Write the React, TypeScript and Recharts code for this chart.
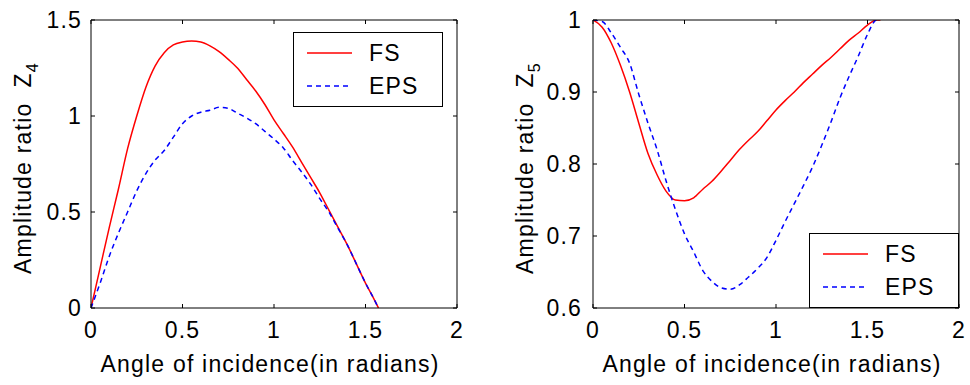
import { LineChart, Line, XAxis, YAxis, Legend } from 'recharts';

// angle of incidence (radians), shared by both panels
const angle = [
  0, 0.05, 0.1, 0.15, 0.2, 0.25, 0.3, 0.35, 0.4, 0.45, 0.5, 0.55, 0.6, 0.65, 0.7, 0.75,
  0.8, 0.85, 0.9, 0.95, 1.0, 1.05, 1.1, 1.15, 1.2, 1.25, 1.3, 1.35, 1.4, 1.45, 1.5, 1.55, 1.5708,
];

// amplitude ratio Z4
const fsZ4 = [
  0, 0.21, 0.42, 0.62, 0.83, 1.0, 1.15, 1.26, 1.33, 1.37, 1.385, 1.39, 1.385, 1.365, 1.335, 1.295,
  1.25, 1.19, 1.13, 1.06, 0.98, 0.91, 0.84, 0.76, 0.68, 0.6, 0.51, 0.42, 0.33, 0.23, 0.13, 0.04, 0,
];
const epsZ4 = [
  0, 0.13, 0.27, 0.39, 0.5, 0.61, 0.7, 0.77, 0.82, 0.89, 0.96, 1.0, 1.02, 1.03, 1.045, 1.04,
  1.015, 0.99, 0.96, 0.92, 0.88, 0.835, 0.77, 0.71, 0.645, 0.57, 0.5, 0.415, 0.33, 0.23, 0.13, 0.04, 0,
];

// amplitude ratio Z5
const fsZ5 = [
  1.0, 0.99, 0.968, 0.937, 0.9, 0.857, 0.815, 0.785, 0.762, 0.75, 0.749, 0.753, 0.765, 0.776, 0.79, 0.805,
  0.82, 0.833, 0.845, 0.86, 0.875, 0.888, 0.9, 0.913, 0.925, 0.937, 0.948, 0.96, 0.972, 0.982, 0.993, 1.0, 1.0,
];
const epsZ5 = [
  1.0, 0.998, 0.982, 0.962, 0.94, 0.897, 0.857, 0.82, 0.776, 0.737, 0.703, 0.678, 0.652, 0.637, 0.628, 0.626,
  0.632, 0.643, 0.655, 0.67, 0.694, 0.72, 0.745, 0.77, 0.796, 0.826, 0.858, 0.892, 0.922, 0.95, 0.98, 1.0, 1.0,
];

const seriesNames = ['FS', 'EPS'];
const xTicks = [0, 0.5, 1, 1.5, 2];
const z4Ticks = [0, 0.5, 1, 1.5];
const z5Ticks = [0.6, 0.7, 0.8, 0.9, 1];

const z4Data = angle.map((a, i) => ({ angle: a, FS: fsZ4[i], EPS: epsZ4[i] }));
const z5Data = angle.map((a, i) => ({ angle: a, FS: fsZ5[i], EPS: epsZ5[i] }));

const FONT = '"Liberation Sans", Arial, Helvetica, sans-serif';
const FS = 23;
const tickStyle = { fontSize: FS, fill: '#000' };
const fmt = (v: number) => String(v);
const noLabel = () => <g />;

const XTitle = (props: any) => {
  const { x, y, width } = props.viewBox;
  return (
    <text x={x + width / 2 - 4} y={y + 64} textAnchor="middle" fontSize={FS} fill="#000">
      Angle of incidence(in radians)
    </text>
  );
};

const makeYTitle = (sub: string) => (props: any) => {
  const { x, y, width, height } = props.viewBox;
  const cx = x + width - 60;
  const cy = y + height / 2 + 4;
  return (
    <text x={cx} y={cy} transform={`rotate(-90 ${cx} ${cy})`} textAnchor="middle" fontSize={FS} fill="#000">
      {'Amplitude ratio\u00a0\u00a0Z'}
      <tspan dy={7} fontSize={16}>{sub}</tspan>
    </text>
  );
};

const LegendBox = (props: any) => {
  const items = [...(props.payload ?? [])].sort(
    (a: any, b: any) => seriesNames.indexOf(a.value) - seriesNames.indexOf(b.value),
  );
  return (
    <svg width={150} height={75} style={{ display: 'block' }}>
      <rect x={0.5} y={0.5} width={149} height={74} fill="#fff" stroke="#000" />
      {items.map((it: any, i: number) => (
        <g key={it.value}>
          <line x1={14} x2={59} y1={21 + i * 33} y2={21 + i * 33} stroke={it.color} strokeWidth={1.5}
            strokeDasharray={it.payload?.strokeDasharray} />
          <text x={76} y={29 + i * 33} fontSize={FS} fill="#000">{it.value}</text>
        </g>
      ))}
    </svg>
  );
};

type PanelProps = {
  left: number;
  data: { angle: number; FS: number; EPS: number }[];
  yDomain: [number, number];
  yTicks: number[];
  sub: string;
  yWidth: number;
  yGap: number;
  legendLeft: number;
  legendTop: number;
};

const Panel = ({ left, data, yDomain, yTicks, sub, yWidth, yGap, legendLeft, legendTop }: PanelProps) => {
  const axisLine = { stroke: '#000' };
  return (
    <div style={{ position: 'absolute', left, top: 0 }}>
      <LineChart width={480} height={385} data={data}
        margin={{ top: 20, right: 480 - yWidth - 366, bottom: 0, left: 0 }}>
        <XAxis xAxisId="b" dataKey="angle" type="number" domain={[0, 2]} ticks={xTicks} allowDataOverflow
          height={77} tickLine={false} tickSize={4} tickMargin={10} axisLine={axisLine}
          tick={tickStyle} tickFormatter={fmt} label={{ content: XTitle }} />
        <XAxis xAxisId="bm" dataKey="angle" type="number" domain={[0, 2]} ticks={xTicks} allowDataOverflow
          orientation="bottom" mirror tick={noLabel} axisLine={false} tickSize={4} tickLine={axisLine} />
        <XAxis xAxisId="t" dataKey="angle" type="number" domain={[0, 2]} ticks={xTicks} allowDataOverflow
          orientation="top" mirror tick={noLabel} axisLine={axisLine} tickSize={4} tickLine={axisLine} />
        <YAxis yAxisId="l" type="number" domain={yDomain} ticks={yTicks} allowDataOverflow width={yWidth}
          tickLine={false} tickSize={4} tickMargin={yGap - 4} axisLine={axisLine} tick={tickStyle}
          tickFormatter={fmt} label={{ content: makeYTitle(sub) }} />
        <YAxis yAxisId="lm" type="number" domain={yDomain} ticks={yTicks} allowDataOverflow
          mirror tick={noLabel} axisLine={false} tickSize={4} tickLine={axisLine} />
        <YAxis yAxisId="r" type="number" domain={yDomain} ticks={yTicks} allowDataOverflow
          orientation="right" mirror tick={noLabel} axisLine={axisLine} tickSize={4} tickLine={axisLine} />
        <Legend verticalAlign="middle" align="center" layout="horizontal" content={LegendBox}
          wrapperStyle={{ left: legendLeft, top: legendTop, width: 150, height: 75 }} />
        <Line xAxisId="b" yAxisId="l" dataKey="FS" type="monotone" stroke="#ff0000" strokeWidth={1.5}
          dot={false} isAnimationActive={false} />
        <Line xAxisId="b" yAxisId="l" dataKey="EPS" type="monotone" stroke="#0000ff" strokeWidth={1.5}
          strokeDasharray="5 4" dot={false} isAnimationActive={false} />
      </LineChart>
    </div>
  );
};

export default function App() {
  return (
    <div style={{ position: 'absolute', left: 0, top: 0, width: 970, height: 385, background: '#fff',
      fontFamily: FONT, letterSpacing: '1.2px' }}>
      <Panel left={0} data={z4Data} yDomain={[0, 1.5]} yTicks={z4Ticks} sub="4" yWidth={91} yGap={9}
        legendLeft={293} legendTop={32} />
      <Panel left={490} data={z5Data} yDomain={[0.6, 1]} yTicks={z5Ticks} sub="5" yWidth={103} yGap={11}
        legendLeft={319} legendTop={233} />
    </div>
  );
}
